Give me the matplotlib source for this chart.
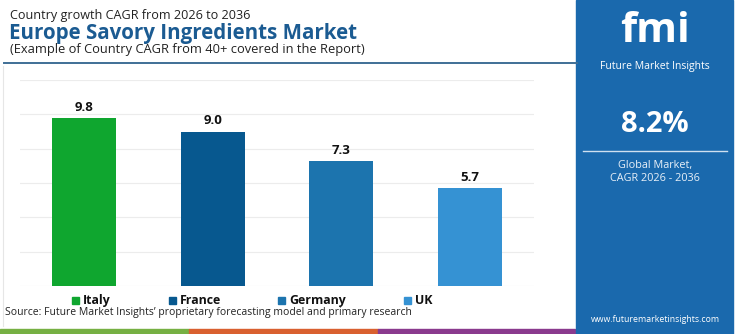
import matplotlib
matplotlib.use("Agg")
import matplotlib.pyplot as plt
from matplotlib.lines import Line2D
from matplotlib.patches import Rectangle

countries = ["Italy", "France", "Germany", "UK"]
cagr = [9.8, 9.0, 7.3, 5.7]
colors = ["#0fa62f", "#07588f", "#1c74ae", "#3592d3"]
global_cagr = "8.2%"

FONT = ["Open Sans", "DejaVu Sans"]
plt.rcParams['font.family'] = FONT

W, H = 750, 334
fig = plt.figure(figsize=(W / 100, H / 100), dpi=100)
fig.patch.set_facecolor("white")

def fx(px):
    return px / W

def fy(py):
    return 1 - py / H

ax = fig.add_axes([fx(20), fy(286), fx(534) - fx(20), fy(80) - fy(286)])
x = list(range(len(countries)))
bars = ax.bar(x, cagr, width=0.5, color=colors, zorder=3)
ax.set_xlim(-0.5, 3.5)
ax.set_ylim(0, 12)
ax.set_yticks([0, 2, 4, 6, 8, 10, 12])
ax.yaxis.grid(True, color="#ececec", linewidth=0.8, zorder=0)
ax.set_axisbelow(True)
for s in ax.spines.values():
    s.set_visible(False)
ax.tick_params(left=False, bottom=False, labelleft=False, labelbottom=False)
for xi, v in zip(x, cagr):
    ax.annotate(f"{v:.1f}", (xi, v), xytext=(0, 3), textcoords="offset points",
                ha="center", va="bottom", fontsize=9.5, fontweight="bold", color="#111111")

# Titles
fig.text(fx(10), fy(15), "Country growth CAGR from 2026 to 2036", fontsize=9.1,
         color="#222222", va="center", ha="left")
fig.text(fx(9), fy(33), "Europe Savory Ingredients Market", fontsize=14.8,
         fontweight="bold", color="#1b5b92", va="center", ha="left")
fig.text(fx(10), fy(50), "(Example of Country CAGR from 40+ covered in the Report)",
         fontsize=9.25, color="#222222", va="center", ha="left")
fig.add_artist(Line2D([fx(4), fx(577)], [fy(63), fy(63)], color="#3f6f96", linewidth=1.4))
fig.add_artist(Line2D([fx(3), fx(3)], [fy(66), fy(326)], color="#e6e6e6", linewidth=0.8))

# Legend
leg_sq = [72, 169, 278, 404]
for px, name, c in zip(leg_sq, countries, colors):
    fig.add_artist(Rectangle((fx(px), fy(304)), fx(7), fy(297) - fy(304), color=c))
    fig.text(fx(px + 11), fy(304), name, fontsize=8.9, fontweight="bold",
             color="#111111", va="baseline", ha="left")

fig.text(fx(5), fy(313), "Source: Future Market Insights\u2019 proprietary forecasting model and primary research",
         fontsize=7.45, color="#222222", va="center", ha="left")

# Bottom stripes
for x0, x1, c in [(0, 189, "#76b043"), (189, 378, "#d9602f"), (378, 575, "#8a3a8e")]:
    fig.add_artist(Rectangle((fx(x0), 0), fx(x1) - fx(x0), fy(329), color=c))

# Right panel
fig.add_artist(Rectangle((fx(576), 0), fx(733) - fx(576), 1, color="#1a69ad"))
cx = fx(655)
fig.text(cx, fy(31), "fmi", fontsize=30, fontweight="bold", color="white",
         ha="center", va="center")
fig.text(cx, fy(67), "Future Market Insights", fontsize=7.5, color="white",
         ha="center", va="center")
fig.text(cx, fy(125), global_cagr, fontsize=21, fontweight="bold", color="white",
         ha="center", va="center")
fig.add_artist(Line2D([fx(583), fx(727)], [fy(151), fy(151)], color="#cfe0f0", linewidth=1.0))
fig.text(cx, fy(165), "Global Market,", fontsize=7.8, color="#e8f0f8", ha="center", va="center")
fig.text(cx, fy(179), "CAGR 2026 - 2036", fontsize=7.8, color="#e8f0f8", ha="center", va="center")
fig.text(cx, fy(320), "www.futuremarketinsights.com", fontsize=6.3, color="white",
         ha="center", va="center")

fig.savefig("out.png", dpi=100, facecolor="white")
